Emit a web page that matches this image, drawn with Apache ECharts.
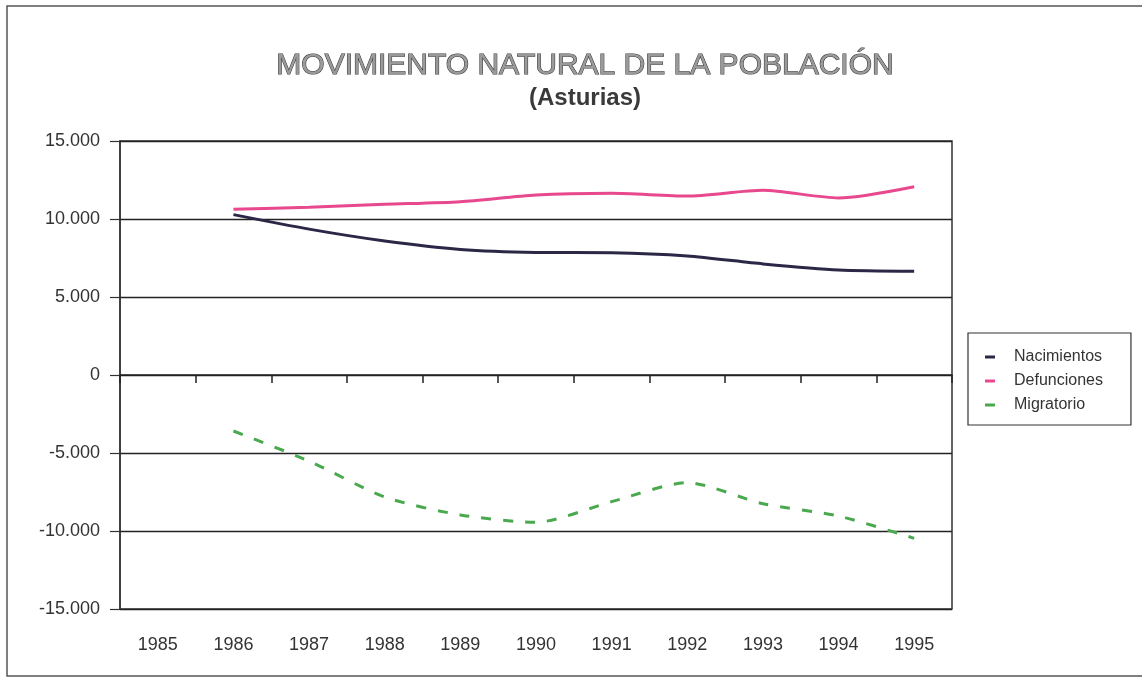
<!DOCTYPE html>
<html>
<head>
<meta charset="utf-8">
<title>Movimiento natural de la población</title>
<script src="https://cdn.jsdelivr.net/npm/echarts@6/dist/echarts.min.js"></script>
<style>
	html, body { margin: 0; padding: 0; background: #fff; }
	#chart { width: 1142px; height: 679px; }
</style>
</head>
<body>
<div id="chart"></div>
<script>
var years = ["1985", "1986", "1987", "1988", "1989", "1990", "1991", "1992", "1993", "1994", "1995"];
var nacimientos = [null, 10280, 9350, 8590, 8050, 7860, 7840, 7630, 7120, 6730, 6650];
var defunciones = [null, 10620, 10750, 10940, 11110, 11540, 11650, 11470, 11840, 11350, 12070];
var migratorio = [null, -3590, -5520, -7820, -8970, -9440, -8120, -6900, -8250, -9040, -10470];

(function() {
	var myChart = echarts.init(document.getElementById("chart"));
	var font = "'Liberation Sans', Arial, sans-serif";

	function miles(v) {
		var s = String(Math.abs(v)).replace(/\B(?=(\d{3})+(?!\d))/g, ".");
		return (v < 0 ? "-" : "") + s;
	}

	var option = {
		backgroundColor: "#fff",
		animation: false,
		textStyle: { fontFamily: font },
		title: [
			{
				text: "MOVIMIENTO NATURAL DE LA POBLACIÓN",
				left: 580,
				top: 46,
				textAlign: "center",
				textStyle: {
					fontFamily: font,
					fontSize: 30,
					fontWeight: "normal",
					color: "#9a9a9a",
					textBorderColor: "#3a3a3a",
					textBorderWidth: 1.1
				}
			},
			{
				text: "(Asturias)",
				left: 580,
				top: 81,
				textAlign: "center",
				textStyle: { fontFamily: font, fontSize: 24, fontWeight: "bold", color: "#3a3a3a" }
			}
		],
		legend: {
			orient: "vertical",
			left: 968,
			top: 333,
			padding: [16, 28, 12, 17],
			itemGap: 8,
			itemWidth: 10,
			itemHeight: 3,
			icon: "rect",
			borderColor: "#333",
			borderWidth: 1.2,
			textStyle: { fontFamily: font, fontSize: 16, color: "#333", padding: [0, 0, 0, 14] },
			data: ["Nacimientos", "Defunciones", "Migratorio"]
		},
		grid: {
			left: 120,
			right: 190,
			top: 141,
			bottom: 70,
			show: true,
			borderColor: "#333",
			borderWidth: 1.5
		},
		xAxis: [
			{
				type: "category",
				data: years,
				position: "bottom",
				axisLine: { show: false, onZero: false },
				axisTick: { show: false },
				axisLabel: { fontFamily: font, fontSize: 18, color: "#333", margin: 27 }
			},
			{
				type: "category",
				data: years,
				position: "bottom",
				axisLine: { onZero: true, lineStyle: { color: "#222", width: 1.5 } },
				axisTick: { show: true, length: 8, lineStyle: { color: "#222", width: 1.5 } },
				axisLabel: { show: false }
			}
		],
		yAxis: {
			type: "value",
			min: -15000,
			max: 15000,
			interval: 5000,
			axisLine: { show: true, lineStyle: { color: "#333", width: 1.5 } },
			axisTick: { show: true, length: 10, lineStyle: { color: "#333", width: 1.2 } },
			axisLabel: {
				fontFamily: font,
				fontSize: 18,
				color: "#333",
				margin: 20,
				formatter: miles
			},
			splitLine: { lineStyle: { color: "#222", width: 1.3 } }
		},
		series: [
			{
				name: "Nacimientos",
				type: "line",
				data: nacimientos,
				smooth: 0.25,
				showSymbol: false,
				itemStyle: { color: "#2a2846" },
				lineStyle: { color: "#2a2846", width: 3 }
			},
			{
				name: "Defunciones",
				type: "line",
				data: defunciones,
				smooth: 0.25,
				showSymbol: false,
				itemStyle: { color: "#e8488e" },
				lineStyle: { color: "#e8488e", width: 3 }
			},
			{
				name: "Migratorio",
				type: "line",
				data: migratorio,
				smooth: 0.25,
				showSymbol: false,
				itemStyle: { color: "#4aa84e" },
				lineStyle: { color: "#4aa84e", width: 3, type: [10, 12] }
			}
		],
		graphic: [
			{
				type: "rect",
				shape: { x: 7, y: 6, width: 1145, height: 670 },
				style: { fill: null, stroke: "#555", lineWidth: 1.5 },
				silent: true
			}
		]
	};

	myChart.setOption(option);

	window.addEventListener("resize", function() {
		myChart.resize();
	});
})();
</script>
</body>
</html>
